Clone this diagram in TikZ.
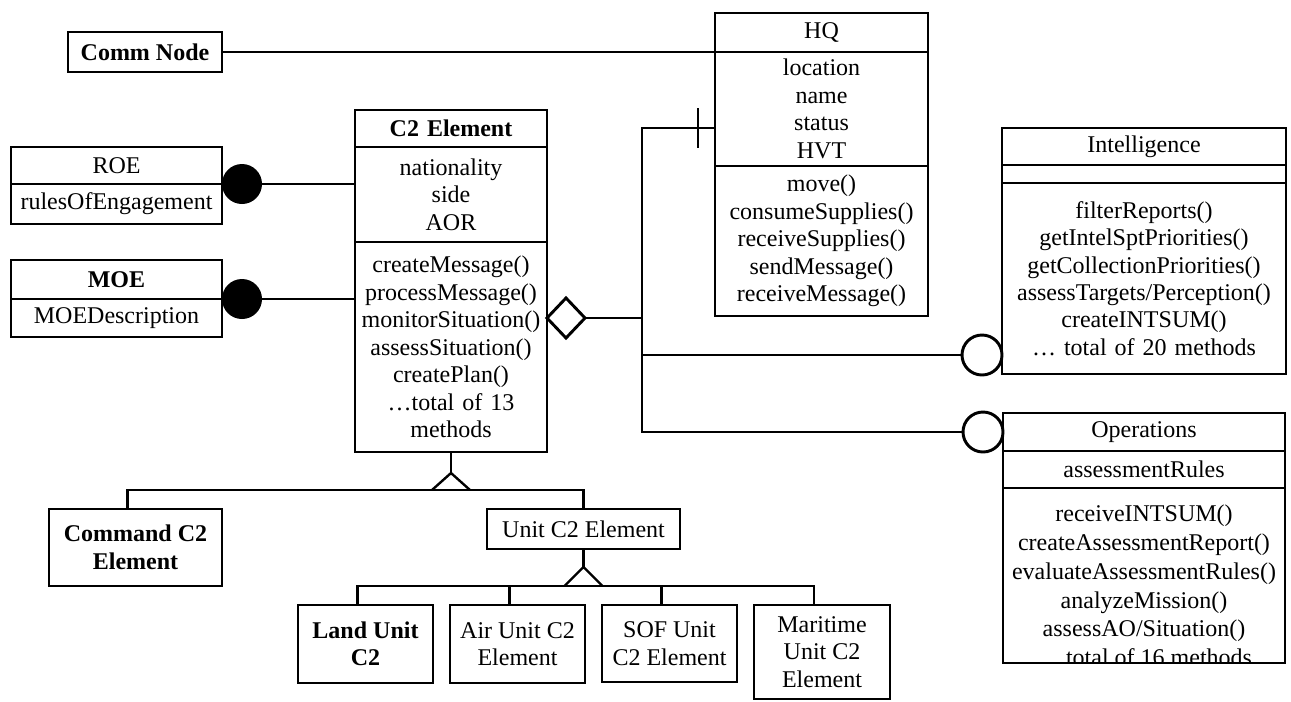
\documentclass[tikz,border=0pt]{standalone}
\usepackage{fontspec}
\setmainfont{Liberation Serif}
\usepackage{tikz}
\usetikzlibrary{positioning,calc,shapes.geometric}
\newlength\px
\setlength\px{0.75pt}
\newcommand\umlfont{\fontsize{18}{20.6}\selectfont}
\tikzset{
  classpart/.style={
    draw,
    line width=2.2pt,
    inner sep=0pt,
    outer sep=0pt,
    align=center,
    font=\umlfont
  },
  plainbox/.style={
    classpart,
    font=\umlfont\bfseries
  },
  dot/.style={circle, fill=black, minimum size=40\px, inner sep=0pt, outer sep=0pt},
  ring/.style={circle, draw, line width=2.2pt, fill=white, minimum size=40\px, inner sep=0pt, outer sep=0pt},
  agg/.style={diamond, draw, line width=2.2pt, fill=white, minimum width=38\px, minimum height=40\px, inner sep=0pt, outer sep=0pt},
  link/.style={line width=1.8pt}
}

\begin{document}
\begin{tikzpicture}[x=0.75pt, y=-0.75pt]
\useasboundingbox (0,0) rectangle (1291,701);

% classes
\node[plainbox, minimum width=154\px, minimum height=40\px, anchor=north west] (comm) at (68,32) {Comm Node};

\node[classpart, text width=213\px, minimum height=39\px, anchor=north west] (hqtitle) at (715,13) {HQ};
\node[classpart, text width=213\px, minimum height=114\px, below=0pt of hqtitle] (hqattr) {location\\name\\status\\HVT};
\node[classpart, text width=213\px, minimum height=150\px, below=0pt of hqattr] (hqmeth) {move()\\consumeSupplies()\\receiveSupplies()\\sendMessage()\\receiveMessage()};

\node[classpart, text width=192\px, minimum height=37\px, anchor=north west, font=\umlfont\bfseries] (c2title) at (355,110) {C2 Element};
\node[classpart, text width=192\px, minimum height=95\px, below=0pt of c2title] (c2attr) {nationality\\side\\AOR};
\node[classpart, text width=192\px, minimum height=210\px, below=0pt of c2attr] (c2meth) {createMessage()\\processMessage()\\monitorSituation()\\assessSituation()\\createPlan()\\…total of 13\\methods};

\node[classpart, text width=211\px, minimum height=37\px, anchor=north west] (roetitle) at (11,147) {ROE};
\node[classpart, text width=211\px, minimum height=40\px, below=0pt of roetitle] (roeattr) {rulesOfEngagement};

\node[classpart, text width=211\px, minimum height=39\px, anchor=north west, font=\umlfont\bfseries] (moetitle) at (11,260) {MOE};
\node[classpart, text width=211\px, minimum height=38\px, below=0pt of moetitle] (moeattr) {MOEDescription};

\node[classpart, text width=284\px, minimum height=37\px, anchor=north west] (inttitle) at (1002,128) {Intelligence};
\node[classpart, text width=284\px, minimum height=18\px, below=0pt of inttitle] (intattr) {};
\node[classpart, text width=284\px, minimum height=191\px, below=0pt of intattr] (intmeth) {filterReports()\\getIntelSptPriorities()\\getCollectionPriorities()\\assessTargets/Perception()\\createINTSUM()\\… total of 20 methods};

\node[classpart, text width=282\px, minimum height=38\px, anchor=north west] (opstitle) at (1003,413) {Operations};
\node[classpart, text width=282\px, minimum height=37\px, below=0pt of opstitle] (opsattr) {assessmentRules};
\node[classpart, text width=282\px, minimum height=175\px, below=0pt of opsattr] (opsmeth) {};
\begin{scope}
  \clip (opsmeth.north west) rectangle (opsmeth.south east);
  \node[classpart, draw=none, anchor=north, font=\fontsize{18}{21.6}\selectfont] (opstext) at ($(opsmeth.north)+(0,17)$) {receiveINTSUM()\\createAssessmentReport()\\evaluateAssessmentRules()\\analyzeMission()\\assessAO/Situation()\\… total of 16 methods};
\end{scope}

% subclasses
\node[plainbox, minimum width=173\px, minimum height=77\px, anchor=north west] (cmd) at (49,509) {Command C2\\Element};
\node[classpart, minimum width=193\px, minimum height=40\px, anchor=north west] (unit) at (487,509) {Unit C2 Element};
\node[plainbox, minimum width=135\px, minimum height=78\px, anchor=north west] (land) at (298,605) {Land Unit\\C2};
\node[classpart, minimum width=135\px, minimum height=78\px, right=17\px of land.north east, anchor=north west] (air) {Air Unit C2\\Element};
\node[classpart, minimum width=135\px, minimum height=77\px, right=17\px of air.north east, anchor=north west] (sof) {SOF Unit\\C2 Element};
\node[classpart, minimum width=136\px, minimum height=94\px, right=17\px of sof.north east, anchor=north west] (mar) {Maritime\\Unit C2\\Element};

% adornments
\node[dot, anchor=west] (roedot) at (roetitle.south east) {};
\node[dot, anchor=west] (moedot) at (moetitle.south east) {};
\node[agg, anchor=west] (aggr) at (c2meth.east |- 0,318) {};
\node[ring, anchor=east] (intring) at (intmeth.west |- 0,355) {};
\node[ring, anchor=east] (opsring) at (opstitle.west) {};
\coordinate (bustop) at (642,128);
\coordinate (busbot) at (642,432);

% associations
\draw[link] (comm.east) -- (hqtitle.south west);
\draw[link] (roedot.east) -- (roedot.east -| c2title.west);
\draw[link] (moedot.east) -- (moedot.east -| c2title.west);
\draw[link] (hqattr.west |- bustop) -- (bustop) -- (busbot) -- (opsring.west);
\draw[link] ($(hqattr.west |- bustop)+(-17,-20)$) -- ++(0,40);
\draw[link] (aggr.east) -- (aggr.east -| bustop);
\draw[link] (bustop |- intring) -- (intring.west);

% generalization
\coordinate (gen1) at (c2meth.south |- 0,490);
\draw[link] (c2meth.south) -- ($(gen1)+(0,-17)$);
\draw[link] ($(cmd.north)+(-8,0)$) |- (gen1) -| (unit.north);
\draw[link] ($(gen1)+(-19,0)$) -- ($(gen1)+(0,-17)$) -- ($(gen1)+(19,0)$);

\coordinate (gen2) at (unit.south |- 0,586);
\draw[link] (unit.south) -- ($(gen2)+(0,-19)$);
\draw[link] ($(land.north)+(-8,0)$) |- (gen2) -| ($(mar.north)+(-8,0)$);
\draw[link] ($(air.north)+(-8,0)$) -- ++(0,-19);
\draw[link] ($(sof.north)+(-8,0)$) -- ++(0,-19);
\draw[link] ($(gen2)+(-19,0)$) -- ($(gen2)+(0,-19)$) -- ($(gen2)+(19,0)$);
\end{tikzpicture}
\end{document}
